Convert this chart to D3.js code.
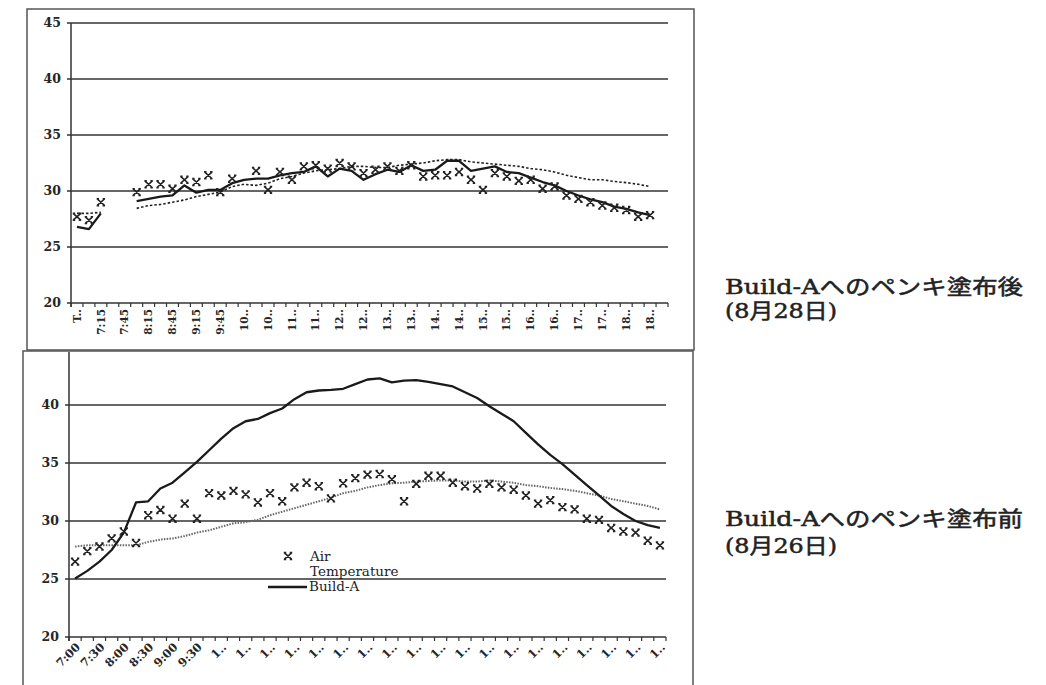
<!DOCTYPE html>
<html><head><meta charset="utf-8">
<script src="https://cdn.jsdelivr.net/npm/d3@7"></script>
<style>body{margin:0;background:#fff;} svg{display:block;}</style>
</head><body><svg id="c" width="1046" height="685"></svg>
<script>
// ---------- data ----------
const topCategories = ["6:45","7:00","7:15","7:30","7:45","8:00","8:15","8:30","8:45","9:00","9:15","9:30","9:45",
  "10:00","10:15","10:30","10:45","11:00","11:15","11:30","11:45","12:00","12:15","12:30","12:45",
  "13:00","13:15","13:30","13:45","14:00","14:15","14:30","14:45","15:00","15:15","15:30","15:45",
  "16:00","16:15","16:30","16:45","17:00","17:15","17:30","17:45","18:00","18:15","18:30","18:45","19:00"];
const topTickLabels = ["T..","7:15","7:45","8:15","8:45","9:15","9:45","10..","10..","11..","11..","12..","12..",
  "13..","13..","14..","14..","15..","15..","16..","16..","17..","17..","18..","18.."];
const topAir = [27.7,27.4,29.0,null,null,29.9,30.6,30.6,30.2,31.0,30.8,31.4,29.9,31.1,null,
  31.8,30.1,31.7,31.0,32.2,32.3,32.0,32.5,32.2,31.6,31.9,32.2,31.8,32.3,31.3,31.4,31.4,31.7,31.0,30.1,
  31.6,31.3,30.9,31.0,30.2,30.4,29.6,29.3,29.0,28.7,28.5,28.3,27.7,27.85];
const topBuildA = [26.8,26.6,28.0,null,null,29.1,29.3,29.5,29.6,30.5,29.85,30.1,30.1,30.7,31.0,
  31.1,31.1,31.4,31.6,31.7,32.2,31.3,32.0,31.8,31.0,31.5,31.9,31.7,32.3,31.8,31.9,32.7,32.7,31.8,32.0,
  32.2,31.7,31.6,31.2,30.8,30.5,30.0,29.6,29.25,29.0,28.6,28.4,28.1,27.85];
const topOther = [28.0,28.0,28.1,null,null,28.45,28.7,28.8,29.0,29.2,29.5,29.7,29.9,30.4,30.6,
  30.5,30.7,31.1,31.3,31.6,31.8,31.9,32.0,32.2,32.2,32.1,32.1,32.3,32.4,32.5,32.7,32.8,32.8,32.6,32.5,
  32.4,32.3,32.2,32.0,31.9,31.7,31.4,31.2,31.0,31.0,30.85,30.75,30.6,30.4];

const bottomCategories = ["7:00","7:15","7:30","7:45","8:00","8:15","8:30","8:45","9:00","9:15","9:30","9:45",
  "10:00","10:15","10:30","10:45","11:00","11:15","11:30","11:45","12:00","12:15","12:30","12:45",
  "13:00","13:15","13:30","13:45","14:00","14:15","14:30","14:45","15:00","15:15","15:30","15:45",
  "16:00","16:15","16:30","16:45","17:00","17:15","17:30","17:45","18:00","18:15","18:30","18:45","19:00"];
const bottomTickLabels = ["7:00","7:30","8:00","8:30","9:00","9:30","1..","1..","1..","1..","1..","1..","1..",
  "1..","1..","1..","1..","1..","1..","1..","1..","1..","1..","1..","1.."];
const bottomAir = [26.5,27.4,27.8,28.5,29.1,28.1,30.5,30.95,30.2,31.5,30.2,32.4,32.2,32.6,32.3,31.6,32.4,31.7,32.9,33.3,
  33.0,31.95,33.25,33.7,34.0,34.05,33.6,31.7,33.2,33.9,33.9,33.3,33.0,32.8,33.2,32.9,32.7,32.2,31.5,31.8,
  31.2,31.0,30.2,30.1,29.4,29.1,29.0,28.3,27.9];
const bottomBuildA = [25.05,25.7,26.5,27.5,29.0,31.6,31.7,32.8,33.3,34.2,35.1,36.1,37.1,38.0,38.6,38.8,39.3,39.7,40.5,41.1,
  41.25,41.3,41.4,41.8,42.2,42.3,41.95,42.1,42.15,42.0,41.8,41.6,41.1,40.6,39.9,39.25,38.6,37.6,36.6,35.7,
  34.9,34.0,33.1,32.2,31.3,30.6,30.0,29.65,29.4];
const bottomOther = [27.8,27.9,27.9,27.9,27.9,27.9,28.2,28.4,28.5,28.7,29.0,29.2,29.5,29.8,29.9,30.1,30.5,30.8,31.1,31.4,
  31.7,32.0,32.4,32.6,32.9,33.1,33.25,33.3,33.4,33.45,33.5,33.5,33.4,33.4,33.5,33.4,33.3,33.1,33.0,32.85,
  32.75,32.6,32.4,32.2,31.9,31.7,31.5,31.3,31.0];

const topYTicks = [20,25,30,35,40,45];
const bottomYTicks = [20,25,30,35,40];
const legendLabels = ["Air", "Temperature", "Build-A"];
const topSideText = ["Build-Aへのペンキ塗布後", "(8月28日)"];
const bottomSideText = ["Build-Aへのペンキ塗布前", "(8月26日)"];

// ---------- drawing ----------
const svg = d3.select("#c");
const INK = "#262626";
const FONT = "'DejaVu Serif', 'Liberation Serif', serif";
const markerPath = "M-3.6,-3.2L3.6,3.2M3.6,-3.2L-3.6,3.2M-4.2,-3.4H-1.8M1.8,-3.4H4.2M-4.2,3.4H-1.8M1.8,3.4H4.2";

function drawPanel(cfg) {
  const g = svg.append("g");
  g.append("rect").attr("x", cfg.box[0]).attr("y", cfg.box[1]).attr("width", cfg.box[2]).attr("height", cfg.box[3])
    .attr("fill", "none").attr("stroke", "#555").attr("stroke-width", 1.5);

  const x = d3.scaleBand().domain(cfg.categories).range(cfg.xRange).paddingInner(0).paddingOuter(0);
  const y = d3.scaleLinear().domain(cfg.yDomain).range(cfg.yRange);
  const bw = x.bandwidth();
  const cx = i => x(cfg.categories[i]) + bw / 2;
  const x0 = cfg.xRange[0], x1 = cfg.xRange[1];

  g.selectAll(".grid").data(cfg.yTicks).enter().append("line")
    .attr("x1", x0 - 4).attr("x2", x1).attr("y1", d => y(d)).attr("y2", d => y(d))
    .attr("stroke", "#333").attr("stroke-width", 1.5);
  g.append("line").attr("x1", x0).attr("x2", x0).attr("y1", y(cfg.yDomain[0]) + 4).attr("y2", cfg.yRange[1])
    .attr("stroke", "#333").attr("stroke-width", 1.5);
  g.selectAll(".yl").data(cfg.yTicks).enter().append("text")
    .attr("x", x0 - 10).attr("y", d => y(d)).attr("dy", "0.35em").attr("text-anchor", "end")
    .attr("font-family", FONT).attr("font-weight", "bold").attr("font-size", 12.5).attr("fill", INK)
    .text(d => d);
  const bounds = d3.range(cfg.categories.length + 1).map(i => x0 + i * bw);
  g.selectAll(".xt").data(bounds).enter().append("line")
    .attr("x1", d => d).attr("x2", d => d).attr("y1", y(cfg.yDomain[0])).attr("y2", y(cfg.yDomain[0]) + 4)
    .attr("stroke", "#333").attr("stroke-width", 1.2);
  const base = y(cfg.yDomain[0]);
  g.selectAll(".xl").data(cfg.tickLabels).enter().append("text")
    .attr("transform", (d, k) => cfg.rot === -90
      ? `translate(${cx(k * 2)},${base + 6}) rotate(-90)`
      : `translate(${cx(k * 2) + 3},${base + 8}) rotate(-45)`)
    .attr("dy", "0.35em").attr("text-anchor", "end")
    .attr("font-family", FONT).attr("font-weight", "bold").attr("font-size", cfg.rot === -90 ? 10.5 : 11.5)
    .attr("fill", INK).text(d => d);

  const line = d3.line().defined(d => d != null).x((d, i) => cx(i)).y(d => y(d));
  g.append("path").attr("d", line(cfg.other)).attr("fill", "none")
    .attr("stroke", cfg.dotColor).attr("stroke-width", cfg.dotWidth).attr("stroke-dasharray", cfg.dash);
  g.append("path").attr("d", line(cfg.buildA)).attr("fill", "none")
    .attr("stroke", "#1a1a1a").attr("stroke-width", 2.3).attr("stroke-linejoin", "round");
  g.selectAll(".m").data(cfg.air.map((v, i) => ({v, i})).filter(d => d.v != null)).enter().append("path")
    .attr("d", markerPath).attr("transform", d => `translate(${cx(d.i)},${y(d.v)})`)
    .attr("fill", "none").attr("stroke", "#222").attr("stroke-width", 1.6);

  cfg.side.forEach((t, k) => {
    g.append("text").attr("x", 725).attr("y", cfg.sideY[k])
      .attr("font-family", "'DejaVu Serif', 'Noto Sans CJK JP', serif").attr("font-weight", "normal")
      .attr("font-size", 21).attr("fill", "#222").attr("stroke", "#222").attr("stroke-width", 0.5)
      .attr("textLength", cfg.sideLen[k]).attr("lengthAdjust", "spacingAndGlyphs").text(t);
  });
  return {g, x, y};
}

drawPanel({
  box: [27, 9, 667, 341], categories: topCategories, tickLabels: topTickLabels,
  xRange: [71, 668], yDomain: [20, 45], yRange: [303, 23], yTicks: topYTicks, rot: -90,
  air: topAir, buildA: topBuildA, other: topOther, dotColor: "#222", dotWidth: 1.6, dash: "2.5,2",
  side: topSideText, sideY: [294, 318], sideLen: [298, 112]
});
drawPanel({
  box: [23, 351, 670, 345], categories: bottomCategories, tickLabels: bottomTickLabels,
  xRange: [69, 666], yDomain: [20, 44.57], yRange: [637, 352], yTicks: bottomYTicks, rot: -45,
  air: bottomAir, buildA: bottomBuildA, other: bottomOther, dotColor: "#666", dotWidth: 2, dash: "1.5,1.3",
  side: bottomSideText, sideY: [526, 553], sideLen: [298, 112]
});

const lg = svg.append("g").attr("font-family", FONT).attr("font-size", 13.5).attr("fill", "#222");
lg.append("path").attr("d", markerPath).attr("transform", "translate(288,556)")
  .attr("fill", "none").attr("stroke", "#222").attr("stroke-width", 1.6);
lg.append("text").attr("x", 310).attr("y", 561).text(legendLabels[0]);
lg.append("text").attr("x", 310).attr("y", 576).text(legendLabels[1]);
lg.append("line").attr("x1", 268).attr("x2", 307).attr("y1", 587).attr("y2", 587)
  .attr("stroke", "#1a1a1a").attr("stroke-width", 2.3);
lg.append("text").attr("x", 309).attr("y", 591).text(legendLabels[2]);
</script></body></html>
